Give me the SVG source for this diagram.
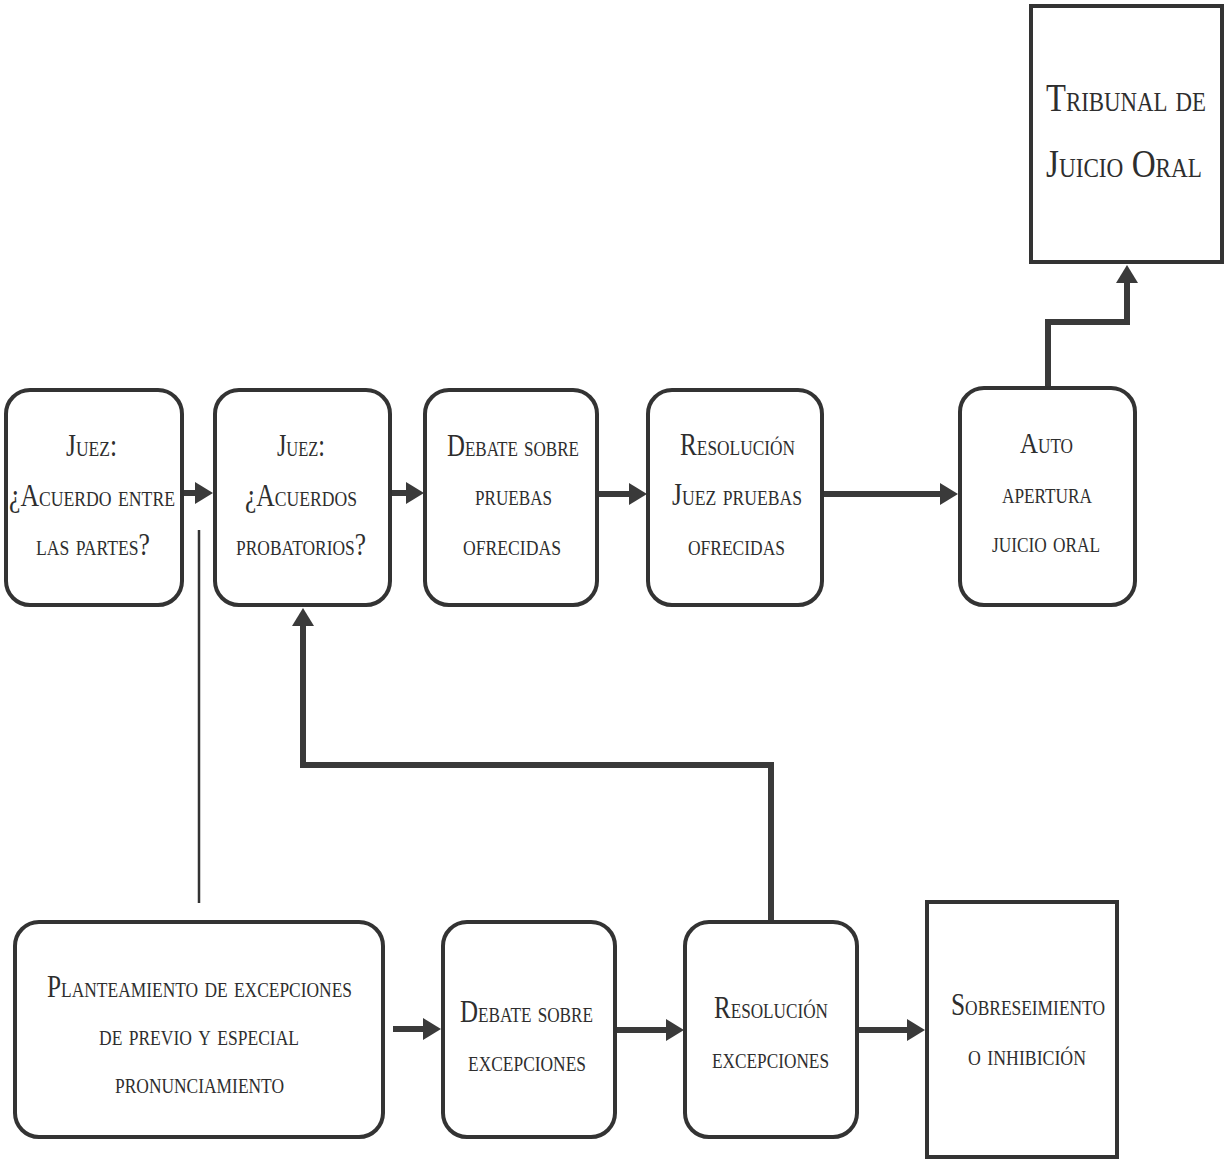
<svg xmlns="http://www.w3.org/2000/svg" width="1226" height="1167" viewBox="0 0 1226 1167">
  <defs>
    <style>
      .box { fill: #ffffff; stroke: #333333; stroke-width: 4; }
      .lbl { font-family: "Liberation Serif", "DejaVu Serif", serif; font-variant: small-caps; fill: #2e2e2e; font-size: 32px; }
      .sm { font-size: 29px; }
      .lg { font-size: 40px; }
      .flow { fill: none; stroke: #3a3a3a; stroke-width: 6; stroke-linejoin: miter; }
      .thin { fill: none; stroke: #333333; stroke-width: 2.5; }
    </style>
    <marker id="head" viewBox="0 0 18 22" refX="1" refY="11" markerWidth="18" markerHeight="22" markerUnits="userSpaceOnUse" orient="auto">
      <path d="M0,0 L18,11 L0,22 z" fill="#3a3a3a"/>
    </marker>
  </defs>

  <rect width="1226" height="1167" fill="#ffffff"/>

  <!-- connectors -->
  <g id="connectors">
    <path class="flow" d="M182,493 H196" marker-end="url(#head)"/>
    <path class="flow" d="M390,493 H407" marker-end="url(#head)"/>
    <path class="flow" d="M597,494 H630" marker-end="url(#head)"/>
    <path class="flow" d="M822,494 H941" marker-end="url(#head)"/>
    <path class="flow" d="M1048,388 V322 H1127 V282" marker-end="url(#head)"/>
    <path class="flow" d="M771,922 V765 H303 V625" marker-end="url(#head)"/>
    <path class="thin" d="M199,530 V903"/>
    <path class="flow" d="M393,1029 H424" marker-end="url(#head)"/>
    <path class="flow" d="M615,1030 H667" marker-end="url(#head)"/>
    <path class="flow" d="M857,1030 H908" marker-end="url(#head)"/>
  </g>

  <!-- top row -->
  <g id="juez-acuerdo">
    <rect class="box" x="6" y="390" width="176" height="215" rx="24"/>
    <text class="lbl" x="66" y="456" textLength="51" lengthAdjust="spacingAndGlyphs">Juez:</text>
    <text class="lbl" x="9" y="506" textLength="166" lengthAdjust="spacingAndGlyphs">¿Acuerdo entre</text>
    <text class="lbl" x="36" y="555" textLength="114" lengthAdjust="spacingAndGlyphs">las partes?</text>
  </g>

  <g id="juez-probatorios">
    <rect class="box" x="215" y="390" width="175" height="215" rx="24"/>
    <text class="lbl" x="277" y="456" textLength="48" lengthAdjust="spacingAndGlyphs">Juez:</text>
    <text class="lbl" x="245" y="506" textLength="112" lengthAdjust="spacingAndGlyphs">¿Acuerdos</text>
    <text class="lbl" x="236" y="555" textLength="130" lengthAdjust="spacingAndGlyphs">probatorios?</text>
  </g>

  <g id="debate-pruebas">
    <rect class="box" x="425" y="390" width="172" height="215" rx="24"/>
    <text class="lbl" x="447" y="456" textLength="132" lengthAdjust="spacingAndGlyphs">Debate sobre</text>
    <text class="lbl" x="475" y="505" textLength="77" lengthAdjust="spacingAndGlyphs">pruebas</text>
    <text class="lbl" x="463" y="555" textLength="98" lengthAdjust="spacingAndGlyphs">ofrecidas</text>
  </g>

  <g id="resolucion-pruebas">
    <rect class="box" x="648" y="390" width="174" height="215" rx="24"/>
    <text class="lbl" x="680" y="455" textLength="115" lengthAdjust="spacingAndGlyphs">Resolución</text>
    <text class="lbl" x="672" y="505" textLength="130" lengthAdjust="spacingAndGlyphs">Juez pruebas</text>
    <text class="lbl" x="688" y="555" textLength="97" lengthAdjust="spacingAndGlyphs">ofrecidas</text>
  </g>

  <g id="auto-apertura">
    <rect class="box" x="960" y="388" width="175" height="217" rx="24"/>
    <text class="lbl sm" x="1020" y="453" textLength="53" lengthAdjust="spacingAndGlyphs">Auto</text>
    <text class="lbl sm" x="1002" y="503" textLength="90" lengthAdjust="spacingAndGlyphs">apertura</text>
    <text class="lbl sm" x="992" y="552" textLength="108" lengthAdjust="spacingAndGlyphs">juicio oral</text>
  </g>

  <g id="tribunal">
    <rect class="box" x="1031" y="6" width="191" height="256" stroke-width="3.5"/>
    <text class="lbl lg" x="1046" y="111" textLength="160" lengthAdjust="spacingAndGlyphs">Tribunal de</text>
    <text class="lbl lg" x="1046" y="177" textLength="156" lengthAdjust="spacingAndGlyphs">Juicio Oral</text>
  </g>

  <!-- bottom row -->
  <g id="planteamiento">
    <rect class="box" x="15" y="922" width="368" height="215" rx="24"/>
    <text class="lbl" x="47" y="997" textLength="305" lengthAdjust="spacingAndGlyphs">Planteamiento de excepciones</text>
    <text class="lbl" x="99" y="1045" textLength="200" lengthAdjust="spacingAndGlyphs">de previo y especial</text>
    <text class="lbl" x="115" y="1093" textLength="169" lengthAdjust="spacingAndGlyphs">pronunciamiento</text>
  </g>

  <g id="debate-excepciones">
    <rect class="box" x="443" y="922" width="172" height="215" rx="24"/>
    <text class="lbl" x="460" y="1022" textLength="133" lengthAdjust="spacingAndGlyphs">Debate sobre</text>
    <text class="lbl" x="468" y="1071" textLength="118" lengthAdjust="spacingAndGlyphs">excepciones</text>
  </g>

  <g id="resolucion-excepciones">
    <rect class="box" x="685" y="922" width="172" height="215" rx="24"/>
    <text class="lbl" x="714" y="1018" textLength="114" lengthAdjust="spacingAndGlyphs">Resolución</text>
    <text class="lbl" x="712" y="1068" textLength="117" lengthAdjust="spacingAndGlyphs">excepciones</text>
  </g>

  <g id="sobreseimiento">
    <rect class="box" x="927" y="902" width="190" height="255" stroke-width="3.5"/>
    <text class="lbl" x="951" y="1015" textLength="154" lengthAdjust="spacingAndGlyphs">Sobreseimiento</text>
    <text class="lbl" x="968" y="1065" textLength="118" lengthAdjust="spacingAndGlyphs">o inhibición</text>
  </g>
</svg>
